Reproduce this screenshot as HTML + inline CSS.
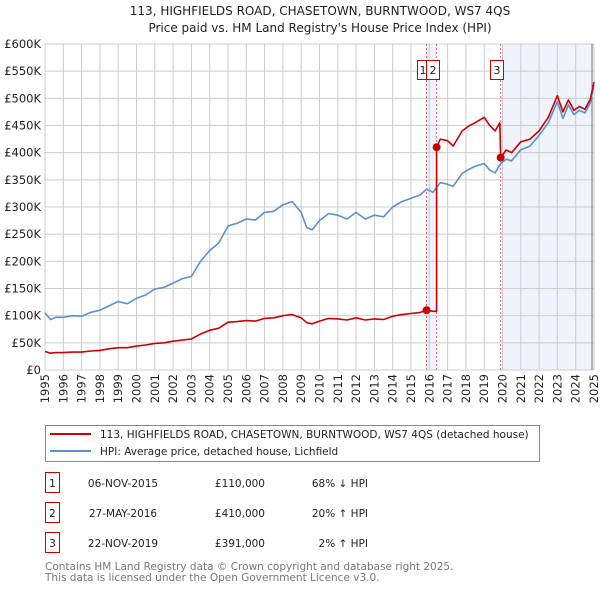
<!DOCTYPE html>
<html><head><meta charset="utf-8"><style>
body{margin:0;background:#fff;font-family:"Liberation Sans","DejaVu Sans",sans-serif}
svg text{font-family:"DejaVu Sans","Liberation Sans",sans-serif}
</style></head><body>
<svg id="chart" width="600" height="590" viewBox="0 0 600 590">
<text x="320" y="15" text-anchor="middle" font-size="12" fill="#222">113, HIGHFIELDS ROAD, CHASETOWN, BURNTWOOD, WS7 4QS</text>
<text x="320" y="32" text-anchor="middle" font-size="12" fill="#222">Price paid vs. HM Land Registry's House Price Index (HPI)</text>
<g id="plot"></g>
<g>
<rect x="45.5" y="425.5" width="494" height="36" fill="#fff" stroke="#888"/>
<line x1="50" y1="434" x2="91" y2="434" stroke="#cc0000" stroke-width="2"/>
<text x="100" y="438" font-size="10.5" fill="#222">113, HIGHFIELDS ROAD, CHASETOWN, BURNTWOOD, WS7 4QS (detached house)</text>
<line x1="50" y1="451" x2="91" y2="451" stroke="#5b8fd0" stroke-width="2"/>
<text x="100" y="455" font-size="10.5" fill="#222">HPI: Average price, detached house, Lichfield</text>
</g>
<g id="table" font-size="10.5" fill="#222"></g>
<text x="45" y="570" font-size="10.5" fill="#777">Contains HM Land Registry data © Crown copyright and database right 2025.</text>
<text x="45" y="581" font-size="10.5" fill="#777">This data is licensed under the Open Government Licence v3.0.</text>
</svg>
<script>
const hpiYears=[1995,1995.3,1995.6,1996,1996.5,1997,1997.5,1998,1998.5,1999,1999.5,2000,2000.5,2001,2001.5,2002,2002.5,2003,2003.5,2004,2004.5,2005,2005.5,2006,2006.5,2007,2007.5,2008,2008.5,2009,2009.3,2009.6,2010,2010.5,2011,2011.5,2012,2012.5,2013,2013.5,2014,2014.5,2015,2015.5,2015.85,2016.2,2016.6,2017,2017.3,2017.8,2018.2,2018.5,2019,2019.3,2019.6,2019.9,2020.2,2020.5,2021,2021.5,2022,2022.5,2023,2023.3,2023.6,2023.9,2024.2,2024.5,2024.8,2025];
const hpiValues=[105,93,97,97,100,99,106,110,118,126,122,132,138,149,152,160,168,172,200,220,234,265,270,278,276,290,292,304,310,290,262,258,275,288,285,278,290,278,285,282,300,310,316,322,333,327,345,342,338,362,370,375,380,368,363,380,388,385,405,412,432,455,494,463,488,470,478,473,492,525];
const saleYears=[1995,1995.3,1995.6,1996,1996.5,1997,1997.5,1998,1998.5,1999,1999.5,2000,2000.5,2001,2001.5,2002,2002.5,2003,2003.5,2004,2004.5,2005,2005.5,2006,2006.5,2007,2007.5,2008,2008.5,2009,2009.3,2009.6,2010,2010.5,2011,2011.5,2012,2012.5,2013,2013.5,2014,2014.5,2015,2015.5,2015.85,2016.2,2016.4,2016.4,2016.6,2017,2017.3,2017.8,2018.2,2018.5,2019,2019.3,2019.6,2019.85,2019.9,2020.2,2020.5,2021,2021.5,2022,2022.5,2023,2023.3,2023.6,2023.9,2024.2,2024.5,2024.8,2025];
const saleValues=[34,31,32,32,33,33,35,36,39,41,41,44,46,49,50,53,55,57,66,73,77,88,89,91,90,95,96,100,102,96,87,85,90,95,94,92,96,92,94,93,99,102,104,106,110,108,108,410,425,422,412,440,450,455,465,450,440,455,391,405,400,420,425,440,465,505,475,497,478,485,480,498,530];
const sales=[{n:"1",y:2015.85,v:110000,d:"06-NOV-2015",p:"£110,000",h:"68% ↓ HPI"},{n:"2",y:2016.4,v:410000,d:"27-MAY-2016",p:"£410,000",h:"20% ↑ HPI"},{n:"3",y:2019.9,v:391000,d:"22-NOV-2019",p:"£391,000",h:"  2% ↑ HPI"}];
const yTicks=[0,50,100,150,200,250,300,350,400,450,500,550,600];
const xTicks=[];for(let y=1995;y<=2025;y++)xTicks.push(y);
const X0=45,X1=594,Y0=370,Y1=44;
const sx=y=>X0+(y-1995)/30*(X1-X0);
const sy=v=>Y0-v/600000*(Y0-Y1);
const NS="http://www.w3.org/2000/svg";
const plot=document.getElementById('plot');
function mk(tag,attrs,parent){const e=document.createElementNS(NS,tag);for(const k in attrs)e.setAttribute(k,attrs[k]);(parent||plot).appendChild(e);return e;}
let r=mk('rect',{x:sx(2020),y:Y1,width:X1-sx(2020),height:Y0-Y1,fill:'#eef3fc'});


r=mk('rect',{x:sx(sales[0].y),y:Y1,width:sx(sales[1].y)-sx(sales[0].y),height:Y0-Y1,fill:'#eef3fc'});


yTicks.forEach(t=>{const l=mk('line',{x1:X0,x2:X1,y1:sy(t*1000),y2:sy(t*1000),stroke:'#ccc'});


const tx=mk('text',{x:X0-4,y:sy(t*1000)+4,'text-anchor':'end','font-size':'11.5',fill:'#222'});


tx.textContent=t===0?'£0':'£'+t+'K';});
xTicks.forEach(t=>{const l=mk('line',{x1:sx(t),x2:sx(t),y1:Y1,y2:Y0,stroke:'#ccc'});


const tx=mk('text',{transform:`translate(${sx(t)+4},374) rotate(-90)`,'text-anchor':'end','font-size':'11.5',fill:'#222'});


tx.textContent=t;});
let ax=mk('line',{x1:X1-2,x2:X1-2,y1:Y1,y2:Y0,stroke:'#777'});


sales.forEach(s=>{const l=mk('line',{x1:sx(s.y),x2:sx(s.y),y1:Y1,y2:Y0,stroke:'#e06070','stroke-dasharray':'2,2'});

});
function path(xs,vs,col,name){const d=xs.map((x,i)=>(i?'L':'M')+sx(x).toFixed(1)+','+sy(vs[i]*1000).toFixed(1)).join('');
const p=mk('path',{d:d,fill:'none',stroke:col,'stroke-width':'1.6','stroke-linejoin':'round'});

}
path(hpiYears,hpiValues,'#5b8fd0','hpi-line');
path(saleYears,saleValues,'#cc0000','property-price-line');
sales.forEach((s,i)=>{const c=mk('circle',{cx:sx(s.y),cy:sy(s.v),r:4,fill:'#cc0000'});


const bx=[417,426,490][i],bw=[11,13,13][i];
const b=mk('rect',{x:bx+0.5,y:60.5,width:bw,height:19,fill:'#fff',stroke:'#cc0000'});


const t=mk('text',{x:bx+bw/2+0.5,y:74,'text-anchor':'middle','font-size':'11',fill:'#222'});


t.textContent=s.n;});
const tb=document.getElementById('table');
sales.forEach((s,i)=>{const y=[483,513,543][i];
const b=mk('rect',{x:45.5,y:y-10.5,width:14,height:20,fill:'#fff',stroke:'#cc0000'},tb);


const cells=[[52.5,s.n,'middle'],[123,s.d,'middle'],[265,s.p,'end'],[368,s.h,'end']];
cells.forEach((c,j)=>{const t=mk('text',{x:c[0],y:y+4,'text-anchor':c[2],'font-size':'10.5',fill:'#222','xml:space':'preserve'},tb);


t.textContent=c[1];});});
</script>
</body></html>
